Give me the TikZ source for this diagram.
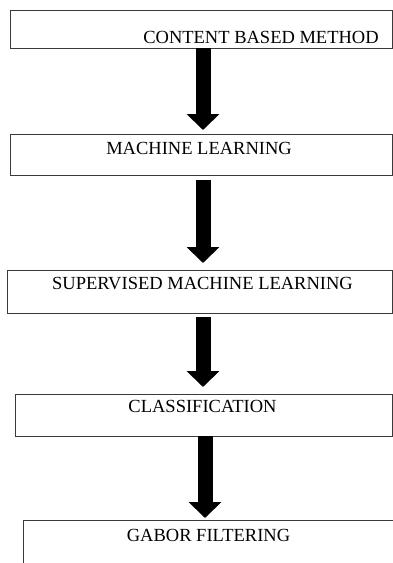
\documentclass[tikz,border=0pt]{standalone}
\usepackage{fontspec}
\setmainfont{Liberation Serif}
\usepackage{tikz}
\usetikzlibrary{arrows.meta, positioning, calc}
\definecolor{mline}{HTML}{3A3A3A}
\tikzset{
  flowbox/.style={draw=mline, line width=0.9pt, fill=white, outer sep=0pt,
                  inner sep=0pt, anchor=north west},
  flowtext/.style={font=\fontsize{18.5}{20}\selectfont, inner sep=0pt, anchor=base},
  blockarr/.style={line width=15pt, black,
                   -{Triangle[width=32pt, length=16pt]}},
}

\begin{document}
\begin{tikzpicture}[x=1pt, y=-1pt]
  \useasboundingbox (0,0) rectangle (393,563);
  \clip (0,0) rectangle (393,563);
  \fill[white] (0,0) rectangle (393,563);

  % content based method
  \node[flowbox, minimum width=382pt, minimum height=38pt] (cbm) at (10,10) {};
  \node[flowtext] (cbmtext) at (261,43) {CONTENT BASED METHOD};

  % machine learning
  \node[flowbox, minimum width=382.5pt, minimum height=41pt] (ml) at (10,134) {};
  \node[flowtext] (mltext) at (199,154) {MACHINE LEARNING};

  % supervised machine learning
  \node[flowbox, minimum width=385.5pt, minimum height=43pt] (sml) at (7,270) {};
  \node[flowtext] (smltext) at (202.5,289) {SUPERVISED MACHINE LEARNING};

  % classification
  \node[flowbox, minimum width=377pt, minimum height=42pt] (cls) at (15,394) {};
  \node[flowtext] (clstext) at (202.5,412) {CLASSIFICATION};

  % gabor filtering
  \node[flowbox, minimum width=400pt, minimum height=80pt] (gab) at (23,520) {};
  \node[flowtext] (gabtext) at (208.5,541) {GABOR FILTERING};

  % arrows
  \coordinate (ax) at (203,0);
  \coordinate (bx) at (205,0);
  \draw[blockarr, shorten >=4pt] (cbm.south -| ax) -- (ml.north -| ax);
  \draw[blockarr, shorten <=5pt, shorten >=7pt] (ml.south -| ax) -- (sml.north -| ax);
  \draw[blockarr, shorten <=4pt, shorten >=7pt] (sml.south -| ax) -- (cls.north -| ax);
  \draw[blockarr, shorten >=2pt] (cls.south -| bx) -- (gab.north -| bx);
\end{tikzpicture}
\end{document}
